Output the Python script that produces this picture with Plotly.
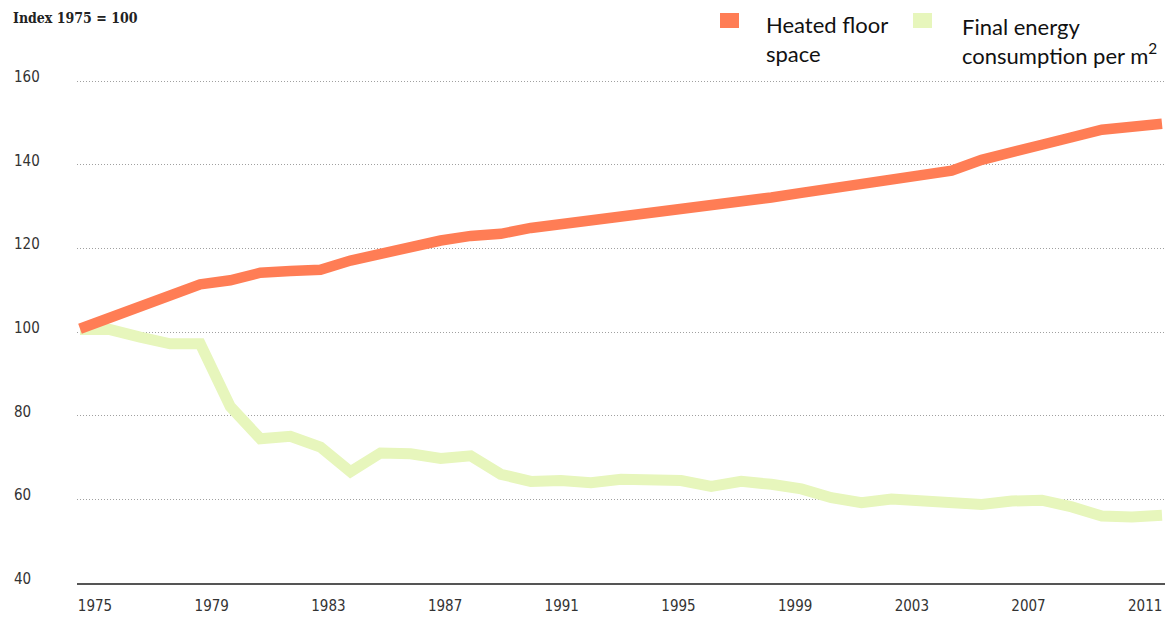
import plotly.graph_objects as go

years = list(range(1975, 2012))

heated_floor_space = [
    100.8, 103.4, 106.1, 108.7, 111.4, 112.4, 114.2, 114.6, 114.9, 117.1,
    118.8, 120.4, 121.9, 123.0, 123.5, 124.9, 125.8, 126.6, 127.5, 128.0,
    129.3, 130.2, 131.1, 132.2, 133.3, 134.3, 135.3, 136.1, 137.3, 138.6,
    141.2, 142.7, 144.8, 146.6, 148.4, 149.1, 149.8,
]

final_energy_per_m2 = [
    100.6, 100.6, 98.8, 97.2, 97.2, 82.2, 74.5, 75.1, 72.5, 66.6,
    71.1, 70.9, 69.8, 70.4, 66.0, 64.3, 64.5, 64.0, 64.8, 64.9,
    64.5, 63.1, 64.3, 63.6, 62.5, 60.4, 59.2, 60.1, 59.8, 59.1,
    58.8, 59.6, 59.8, 58.2, 56.0, 55.8, 56.2,
]

x_tick_labels = ["1975", "1979", "1983", "1987", "1991", "1995", "1999", "2003", "2007", "2011"]
y_tick_values = [40, 60, 80, 100, 120, 140, 160]
grid_values = [60, 80, 100, 120, 140, 160]

ORANGE = "#FF7D55"
GREEN = "#E7F6BC"
TXT = "#333333"

fig = go.Figure()

fig.add_trace(go.Scatter(
    x=years, y=final_energy_per_m2, mode="lines",
    line=dict(color=GREEN, width=11, shape="linear"),
    name="Final energy consumption per m²", showlegend=False, hoverinfo="skip",
))
fig.add_trace(go.Scatter(
    x=years, y=heated_floor_space, mode="lines",
    line=dict(color=ORANGE, width=10.5, shape="linear"),
    name="Heated floor space", showlegend=False, hoverinfo="skip",
))

# plot-area pixel geometry
L, R, T, B = 77, 6, 77, 41
W, H = 1171, 624
pw = W - L - R
ph = H - T - B

def px_x(p):
    return (p - L) / pw

def px_y(p):
    return (H - B - p) / ph

# tick label positions (labels are spread slightly narrower than the data span)
tick_pos = [1975.5 + (int(t) - 1975) * 0.9706 for t in x_tick_labels]

fig.update_xaxes(
    range=[1974.9, 2011.1],
    tickmode="array", tickvals=tick_pos, ticktext=x_tick_labels,
    showgrid=False, zeroline=False,
    showline=True, linecolor="#555555", linewidth=2,
    ticks="", ticklabelstandoff=8,
    tickfont=dict(family="DejaVu Sans Condensed", size=15, color=TXT),
)
fig.update_yaxes(
    range=[40, 161],
    tickmode="array", tickvals=grid_values, showticklabels=False,
    showgrid=True, gridcolor="#a0a0a0", gridwidth=1, griddash="1px,2px",
    zeroline=False, showline=False, ticks="",
)

annotations = []
for v in y_tick_values:
    annotations.append(dict(
        x=px_x(12), xref="paper", y=v, yref="y",
        text=str(v), showarrow=False, xanchor="left", yanchor="middle",
        yshift=4, font=dict(family="DejaVu Sans Condensed", size=15, color=TXT),
    ))

annotations.append(dict(
    x=px_x(11), xref="paper", y=px_y(18), yref="paper",
    text="<b>Index 1975 = 100</b>", showarrow=False, xanchor="left", yanchor="middle",
    font=dict(family="DejaVu Serif Condensed", size=14, color="#222222"),
))

annotations.append(dict(
    x=px_x(764), xref="paper", y=px_y(9), yref="paper",
    text="Heated floor<br>space", showarrow=False, xanchor="left", yanchor="top",
    align="left", font=dict(family="Lato", size=22, color="#111111"),
))
annotations.append(dict(
    x=px_x(960), xref="paper", y=px_y(11), yref="paper",
    text="Final energy<br>consumption per m<sup>2</sup>", showarrow=False,
    xanchor="left", yanchor="top",
    align="left", font=dict(family="Lato", size=22, color="#111111"),
))

shapes = [
    dict(type="rect", xref="paper", yref="paper",
         x0=px_x(720), x1=px_x(739), y0=px_y(28), y1=px_y(13),
         fillcolor=ORANGE, line=dict(width=0)),
    dict(type="rect", xref="paper", yref="paper",
         x0=px_x(913), x1=px_x(932), y0=px_y(28), y1=px_y(13),
         fillcolor=GREEN, line=dict(width=0)),
]

fig.update_layout(
    width=W, height=H,
    margin=dict(l=L, r=R, t=T, b=B, pad=0),
    paper_bgcolor="white", plot_bgcolor="white",
    annotations=annotations, shapes=shapes,
    showlegend=False,
)

fig.write_html(
    "out.html",
    config={"displayModeBar": False},
    post_script="document.body.style.margin='0px';document.body.style.padding='0px';",
)
